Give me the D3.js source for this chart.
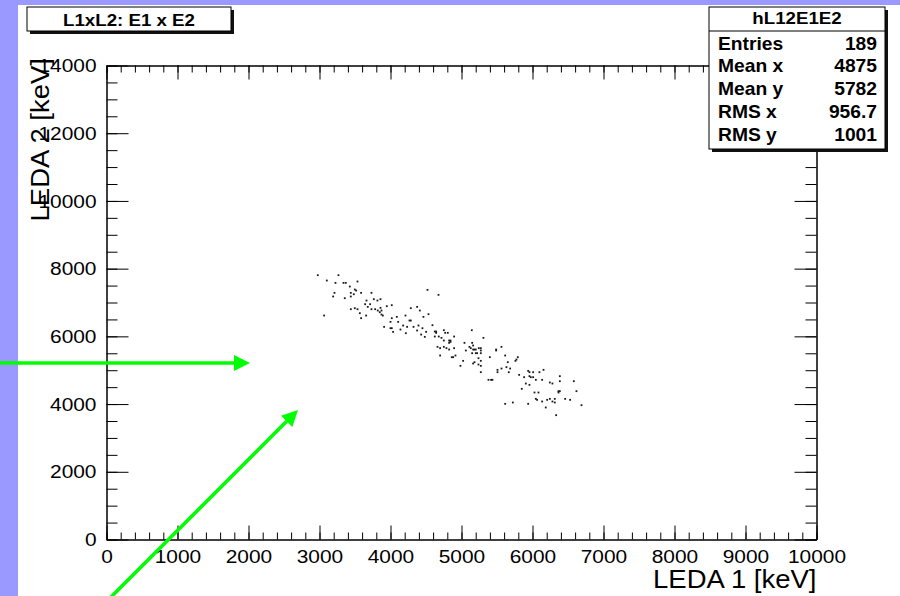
<!DOCTYPE html>
<html>
<head>
<meta charset="utf-8">
<script src="https://cdn.jsdelivr.net/npm/d3@7"></script>
<style>
  html, body { margin: 0; padding: 0; background: #9999ff; }
  svg { display: block; }
  text { font-family: "Liberation Sans", Arial, Helvetica, sans-serif; fill: #000; }
</style>
</head>
<body>
<svg id="chart" width="900" height="596"></svg>
<script>
// ---- data ----
const histName = "hL12E1E2";
const chartTitle = "L1xL2: E1 x E2";
const xTitle = "LEDA 1 [keV]";
const yTitle = "LEDA 2 [keV]";
const statLabels = ["Entries", "Mean x", "Mean y", "RMS x", "RMS y"];
const statValues = ["189", "4875", "5782", "956.7", "1001"];
const xMajorTicks = [0,1000,2000,3000,4000,5000,6000,7000,8000,9000,10000];
const yMajorTicks = [0,2000,4000,6000,8000,10000,12000,14000];

const ptX = [2976,3267,3103,3225,3338,3370,3427,3535,3497,3516,3211,3192,3441,3483,3441,3586,3732,3356,4521,4676,
  3662,3765,3816,3859,3643,3713,3680,3441,3497,3535,3732,3784,3821,3859,3873,3849,3948,4018,3065,3568,
  3657,3873,3892,3586,4286,4375,4413,4535,4211,4464,4089,4018,4000,4108,3910,4000,4018,4178,4234,4324,
  4394,4140,4267,4286,4037,4216,4375,4450,4502,4432,4483,
  4591,4624,4643,4643,4751,4770,4807,4624,4680,4718,4751,4826,4845,4826,4845,4896,5145,5309,4662,4699,
  4751,4788,4826,4896,5042,5150,5164,4699,4863,4882,4915,5061,5112,5131,5164,5183,5201,5244,5272,5272,
  5150,5201,5220,5272,5239,5023,5183,5164,5272,4985,5239,5272,5399,5488,5488,5563,5615,5652,5793,5774,
  5760,5272,5507,5507,5563,5633,5685,5666,5380,5417,5436,5812,5939,5957,6009,6098,6155,5882,5957,5976,
  6009,6047,6136,6244,6281,6385,6385,6582,5906,5957,5849,6028,6084,6366,6385,6366,6619,6047,6065,6136,
  6206,6244,6281,6314,6314,6460,6530,5615,5723,5939,6187,6690,6333];
const ptY = [7807,7807,7649,7580,7580,7580,7472,7620,7383,7354,7285,7177,7285,7245,7177,7285,7285,7127,7373,7226,
  7058,7098,7058,7098,6950,6950,6871,6802,6832,6802,6802,6802,6763,6842,6763,6714,6891,6921,6615,6684,
  6615,6645,6615,6537,6832,6871,6763,6655,6615,6576,6576,6537,6428,6428,6281,6241,6241,6320,6281,6281,
  6320,6202,6468,6468,6133,6094,6173,6241,6133,6054,5985,
  6330,6143,6104,6143,6182,6104,6104,5995,5995,5956,5877,5877,5877,5808,5838,5995,6182,5956,5690,5651,
  5690,5651,5611,5651,5808,5808,5730,5434,5385,5385,5434,5582,5690,5651,5611,5611,5611,5651,5651,5582,
  5503,5503,5503,5503,5355,5277,5237,5198,5277,5129,5168,5129,5385,5611,5582,5690,5434,5237,5385,5316,
  5277,4942,5011,4942,5050,5090,5050,4942,4716,4716,4716,4863,4981,4942,4942,4942,5011,4794,4824,4794,
  4794,4716,4716,4637,4607,4824,4676,4676,4607,4568,4450,4342,4342,4381,4381,4342,4381,4154,4125,4076,
  4125,4154,4076,4046,4154,4154,4125,4007,4046,4007,3899,3967,3672];

// ---- drawing ----
const svg = d3.select("#chart");
const SX = 1.1; // horizontal stretch of the reference's text

// page
svg.append("rect").attr("x", 0).attr("y", 0).attr("width", 900).attr("height", 596).attr("fill", "#9999ff");
svg.append("rect").attr("x", 18).attr("y", 5).attr("width", 882).attr("height", 591).attr("fill", "#ffffff");

const x = d3.scaleLinear().domain([0, 10000]).range([106.5, 816.5]);
const y = d3.scaleLinear().domain([0, 14000]).range([539.5, 65.5]);

const axisStyle = g => {
  g.selectAll("path, line").attr("stroke", "#000").attr("stroke-width", 1);
  g.selectAll("text").attr("font-size", 19).attr("fill", "#000");
};

// minor ticks
const xMinor = d3.range(0, 10001, 200);
const yMinor = d3.range(0, 14001, 500);
svg.append("g").attr("transform", `translate(0,${y(0)})`)
  .call(d3.axisBottom(x).tickValues(xMinor).tickSize(-7).tickSizeOuter(0).tickFormat(""))
  .call(axisStyle);
svg.append("g").attr("transform", `translate(0,${y(14000)})`)
  .call(d3.axisTop(x).tickValues(xMinor).tickSize(-7).tickSizeOuter(0).tickFormat(""))
  .call(axisStyle);
svg.append("g").attr("transform", `translate(${x(0)},0)`)
  .call(d3.axisLeft(y).tickValues(yMinor).tickSize(-11).tickSizeOuter(0).tickFormat(""))
  .call(axisStyle);
svg.append("g").attr("transform", `translate(${x(10000)},0)`)
  .call(d3.axisRight(y).tickValues(yMinor).tickSize(-11).tickSizeOuter(0).tickFormat(""))
  .call(axisStyle);

// major ticks + labels
const gxb = svg.append("g").attr("transform", `translate(0,${y(0)})`)
  .call(d3.axisBottom(x).tickValues(xMajorTicks).tickSize(-14).tickSizeOuter(0).tickPadding(10).tickFormat(d3.format("d")))
  .call(axisStyle);
gxb.selectAll("text").attr("transform", `scale(${SX},1)`);
svg.append("g").attr("transform", `translate(0,${y(14000)})`)
  .call(d3.axisTop(x).tickValues(xMajorTicks).tickSize(-14).tickSizeOuter(0).tickFormat(""))
  .call(axisStyle);
const gyl = svg.append("g").attr("transform", `translate(${x(0)},0)`)
  .call(d3.axisLeft(y).tickValues(yMajorTicks).tickSize(-22).tickSizeOuter(0).tickPadding(10).tickFormat(d3.format("d")))
  .call(axisStyle);
gyl.selectAll("text").attr("x", -10 / SX).attr("transform", `scale(${SX},1)`);
svg.append("g").attr("transform", `translate(${x(10000)},0)`)
  .call(d3.axisRight(y).tickValues(yMajorTicks).tickSize(-22).tickSizeOuter(0).tickFormat(""))
  .call(axisStyle);

// axis titles
svg.append("text")
  .attr("transform", `translate(${x(10000)},588) scale(${SX},1)`)
  .attr("text-anchor", "end").attr("font-size", 25).text(xTitle);
svg.append("text")
  .attr("transform", `translate(49,58) rotate(-90) scale(${SX},1)`)
  .attr("text-anchor", "end").attr("font-size", 25).text(yTitle);

// scatter points
const pts = ptX.map((v, i) => ({ x: v, y: ptY[i] }));
svg.append("g").selectAll("rect").data(pts).join("rect")
  .attr("x", d => x(d.x) - 0.9).attr("y", d => y(d.y) - 0.9)
  .attr("width", 1.8).attr("height", 1.8).attr("fill", "#1a1a1a");

// title box
const tb = { x0: 27, y0: 7, x1: 231, y1: 31 };
svg.append("rect").attr("x", tb.x0 + 3).attr("y", tb.y0 + 3)
  .attr("width", tb.x1 - tb.x0).attr("height", tb.y1 - tb.y0).attr("fill", "#111");
svg.append("rect").attr("x", tb.x0).attr("y", tb.y0)
  .attr("width", tb.x1 - tb.x0).attr("height", tb.y1 - tb.y0)
  .attr("fill", "#fff").attr("stroke", "#000").attr("stroke-width", 1);
svg.append("text")
  .attr("transform", `translate(${(tb.x0 + tb.x1) / 2},25.5) scale(${SX},1)`)
  .attr("text-anchor", "middle").attr("font-size", 17).attr("font-weight", "bold").text(chartTitle);

// stats box
const sb = { x0: 709, y0: 7, x1: 885, y1: 149 };
svg.append("rect").attr("x", sb.x0 + 3).attr("y", sb.y0 + 3)
  .attr("width", sb.x1 - sb.x0).attr("height", sb.y1 - sb.y0).attr("fill", "#111");
svg.append("rect").attr("x", sb.x0).attr("y", sb.y0)
  .attr("width", sb.x1 - sb.x0).attr("height", sb.y1 - sb.y0)
  .attr("fill", "#fff").attr("stroke", "#000").attr("stroke-width", 1);
svg.append("line").attr("x1", sb.x0).attr("x2", sb.x1).attr("y1", 31).attr("y2", 31)
  .attr("stroke", "#000").attr("stroke-width", 1);
svg.append("text")
  .attr("transform", `translate(${(sb.x0 + sb.x1) / 2},23.5) scale(${SX},1)`)
  .attr("text-anchor", "middle").attr("font-size", 17).attr("font-weight", "bold").text(histName);
statLabels.forEach((lab, i) => {
  const by = 49.5 + i * 22.8;
  svg.append("text").attr("transform", `translate(718,${by}) scale(${SX},1)`)
    .attr("font-size", 17.5).attr("font-weight", "bold").text(lab);
  svg.append("text").attr("transform", `translate(877,${by}) scale(${SX},1)`)
    .attr("text-anchor", "end").attr("font-size", 17.5).attr("font-weight", "bold").text(statValues[i]);
});

// green arrows
const green = "#00ff00";
function arrow(x1, y1, x2, y2) {
  const ang = Math.atan2(y2 - y1, x2 - x1);
  const L = 16, W = 8;
  const bx = x2 - L * Math.cos(ang), by = y2 - L * Math.sin(ang);
  svg.append("line").attr("x1", x1).attr("y1", y1).attr("x2", bx).attr("y2", by)
    .attr("stroke", green).attr("stroke-width", 3.5);
  const p = [[x2, y2],
    [bx + W * Math.sin(ang), by - W * Math.cos(ang)],
    [bx - W * Math.sin(ang), by + W * Math.cos(ang)]];
  svg.append("path").attr("d", d3.line()(p) + "Z").attr("fill", green);
}
arrow(-5, 363, 250, 363);
arrow(108, 600, 298, 410);
</script>
</body>
</html>
